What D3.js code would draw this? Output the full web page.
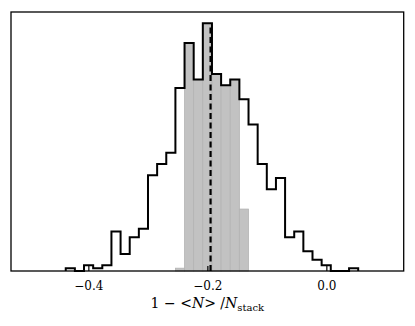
<!DOCTYPE html>
<html>
<head>
<meta charset="utf-8">
<script src="https://cdn.jsdelivr.net/npm/d3@7"></script>
<style>
  * { margin: 0; padding: 0; }
  body { background: #fff; }
  svg { display: block; }
  text { font-family: "DejaVu Serif", serif; fill: #000; }
</style>
</head>
<body>
<svg id="chart" width="415" height="326"></svg>
<script>
// histogram bins (shared by both histograms)
var binStart = -0.438;
var binWidth = 0.01536;

// counts of the full sample (black step outline)
var allCounts = [1, 0, 2, 1, 2, 14, 6, 12, 15, 34, 38, 42, 65, 81, 68, 88,
                 70, 66, 68, 61, 52, 38, 29, 33, 12, 14, 7, 4, 2, 0, 0, 1];
// counts of the subset (grey filled bars)
var subCounts = [0, 0, 0, 0, 0, 0, 0, 0, 0, 0, 0, 0, 1, 81, 68, 88,
                 70, 66, 68, 22, 0, 0, 0, 0, 0, 0, 0, 0, 0, 0, 0, 0];

var meanValue = -0.1946;
var tickValues = [-0.4, -0.2, 0.0];

var margin = { left: 11, top: 12, right: 11.3, bottom: 55 },
    W = 415, H = 326,
    width = W - margin.left - margin.right,
    height = H - margin.top - margin.bottom;

var svg = d3.select("#chart");
var g = svg.append("g")
    .attr("transform", "translate(" + margin.left + "," + margin.top + ")");

var x = d3.scaleLinear().domain([-0.53, 0.13]).range([0, width]);
var y = d3.scaleLinear().domain([0, 92]).range([height, 0]);

var bins = allCounts.map(function (c, i) {
    return { x0: binStart + i * binWidth, x1: binStart + (i + 1) * binWidth, all: c, sub: subCounts[i] };
});

// grey bars
g.selectAll("rect.sub")
    .data(bins.filter(function (d) { return d.sub > 0; }))
    .enter().append("rect")
    .attr("class", "sub")
    .attr("x", function (d) { return x(d.x0); })
    .attr("y", function (d) { return y(d.sub); })
    .attr("width", function (d) { return x(d.x1) - x(d.x0); })
    .attr("height", function (d) { return y(0) - y(d.sub); })
    .attr("fill", "#c2c2c2")
    .attr("stroke", "#b3b3b3")
    .attr("stroke-width", 0.8);

// black step outline
var pts = [[bins[0].x0, 0]];
bins.forEach(function (d) {
    pts.push([d.x0, d.all]);
    pts.push([d.x1, d.all]);
});
pts.push([bins[bins.length - 1].x1, 0]);

g.append("path")
    .attr("d", d3.line()
        .x(function (p) { return x(p[0]); })
        .y(function (p) { return y(p[1]); })(pts))
    .attr("fill", "none")
    .attr("stroke", "#000")
    .attr("stroke-width", 2)
    .attr("stroke-linejoin", "miter");

// dashed mean line
g.append("line")
    .attr("x1", x(meanValue)).attr("x2", x(meanValue))
    .attr("y1", y(0)).attr("y2", y(d3.max(allCounts)))
    .attr("stroke", "#000")
    .attr("stroke-width", 2.2)
    .attr("stroke-dasharray", "6,3.5");

// x axis with inward ticks
var xAxis = g.append("g")
    .attr("transform", "translate(0," + height + ")")
    .call(d3.axisBottom(x)
        .tickValues(tickValues)
        .tickFormat(d3.format(".1f"))
        .tickSizeInner(-5)
        .tickSizeOuter(0)
        .tickPadding(10));
xAxis.select(".domain").remove();
xAxis.selectAll(".tick line").attr("stroke", "#000").attr("stroke-width", 1.2);
xAxis.selectAll(".tick text")
    .style("font-family", "DejaVu Serif, serif")
    .style("font-size", "12px")
    .attr("fill", "#000");

// frame
g.append("rect")
    .attr("x", 0).attr("y", 0)
    .attr("width", width).attr("height", height)
    .attr("fill", "none")
    .attr("stroke", "#000")
    .attr("stroke-width", 1.3);

// x label: 1 - <N>/N_stack
var lab = svg.append("text")
    .attr("x", margin.left + x(-0.2) + 0)
    .attr("y", 308)
    .attr("text-anchor", "middle")
    .style("font-size", "14px");
lab.append("tspan").text("1 − <");
lab.append("tspan").style("font-style", "italic").text("N");
lab.append("tspan").text("> /");
lab.append("tspan").style("font-style", "italic").text("N");
lab.append("tspan").attr("dy", 3).style("font-size", "10px").text("stack");
</script>
</body>
</html>
